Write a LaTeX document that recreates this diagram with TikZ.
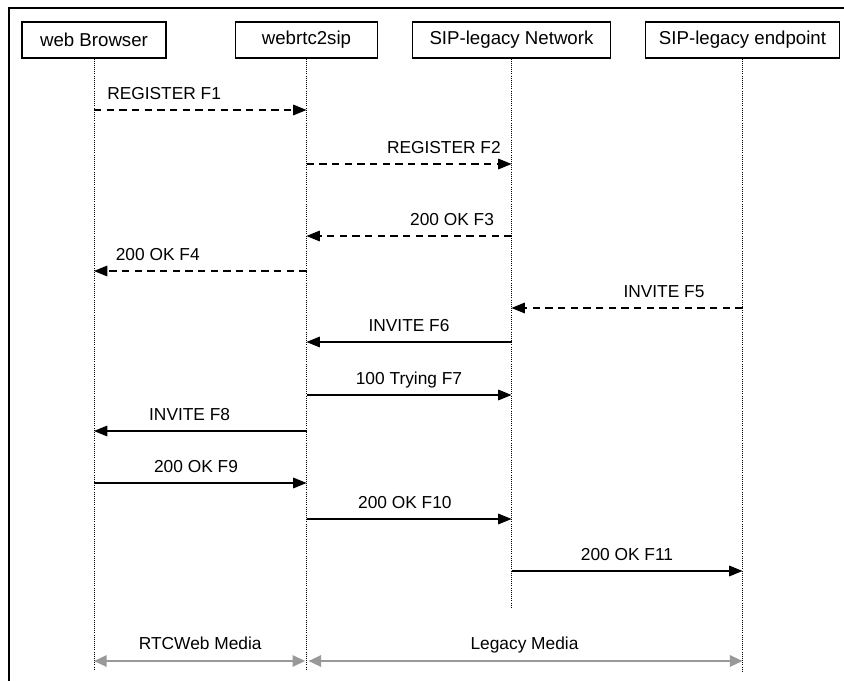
\documentclass[tikz,border=0pt]{standalone}
\usepackage{fontspec}
\setmainfont{Liberation Sans}
\usetikzlibrary{arrows.meta}

\tikzset{
    entity/.style={draw, line width=0.8pt, minimum height=27pt, inner sep=0pt, font=\fontsize{14}{16}\selectfont},
    lifeline/.style={densely dotted, line width=0.6pt},
    msg/.style={line width=0.8pt, -{Triangle[length=10pt, width=8pt]}},
    reply/.style={msg, dash pattern=on 5.5pt off 4pt},
    media/.style={black!40, line width=1.6pt, {Triangle[length=9.5pt, width=8.5pt]}-{Triangle[length=9.5pt, width=8.5pt]}},
    lbl/.style={above=7.5pt, inner sep=0pt, text depth=0pt, font=\fontsize{13}{15}\selectfont}
}

\begin{document}
\begin{tikzpicture}[x=0.75pt, y=-0.75pt]
    \useasboundingbox (0, 0) rectangle (844, 681);
    \draw[line width=1.1pt] (9, 700) -- (9, 8) -- (870, 8);

    \node[entity, minimum width=108pt] at (94, 40) (wb) {web Browser};
    \node[entity, minimum width=107pt] at (306.5, 40) (w2s) {webrtc2sip};
    \node[entity, minimum width=148pt] at (511.5, 40) (net) {SIP-legacy Network};
    \node[entity, minimum width=146pt] at (742.5, 40) (ep) {SIP-legacy endpoint};

    \coordinate (wbend) at (94, 670);
    \coordinate (w2send) at (306.5, 670);
    \coordinate (netend) at (511.5, 608);
    \coordinate (epend) at (742.5, 672);

    \draw[lifeline] (wb) -- (wbend);
    \draw[lifeline] (w2s) -- (w2send);
    \draw[lifeline] (net) -- (netend);
    \draw[lifeline] (ep) -- (epend);

    \draw[reply] (wb |- 0, 110) -- node[lbl, pos=0.33] {REGISTER F1} (w2s |- 0, 110);
    \draw[reply] (w2s |- 0, 164) -- node[lbl, pos=0.67] {REGISTER F2} (net |- 0, 164);
    \draw[reply] (net |- 0, 236) -- node[lbl, pos=0.29] {200 OK F3} (w2s |- 0, 236);
    \draw[reply] (w2s |- 0, 271) -- node[lbl, pos=0.70] {200 OK F4} (wb |- 0, 271);
    \draw[reply] (ep |- 0, 308) -- node[lbl, pos=0.34] {INVITE F5} (net |- 0, 308);

    \draw[msg] (net |- 0, 342) -- node[lbl] {INVITE F6} (w2s |- 0, 342);
    \draw[msg] (w2s |- 0, 395) -- node[lbl] {100 Trying F7} (net |- 0, 395);
    \draw[msg] (w2s |- 0, 431) -- node[lbl, pos=0.55] {INVITE F8} (wb |- 0, 431);
    \draw[msg] (wb |- 0, 483) -- node[lbl, pos=0.48] {200 OK F9} (w2s |- 0, 483);
    \draw[msg] (w2s |- 0, 519) -- node[lbl, pos=0.48] {200 OK F10} (net |- 0, 519);
    \draw[msg] (net |- 0, 571) -- node[lbl] {200 OK F11} (ep |- 0, 571);

    \draw[media, shorten >=1pt] (wb |- 0, 661) -- node[lbl, text=black] {RTCWeb Media} (w2s |- 0, 661);
    \draw[media, shorten <=1.5pt] (w2s |- 0, 661) -- node[lbl, text=black] {Legacy Media} (ep |- 0, 661);
\end{tikzpicture}
\end{document}
